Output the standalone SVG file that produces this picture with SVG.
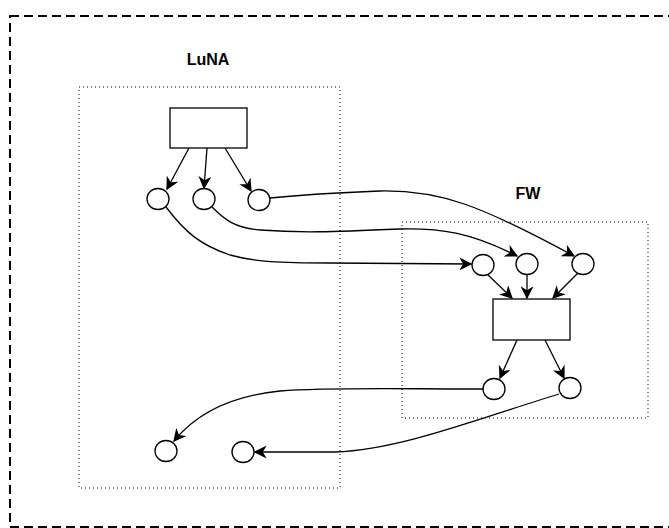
<svg xmlns="http://www.w3.org/2000/svg" width="669" height="528" viewBox="0 0 669 528">
<defs>
<style>
.outer{fill:none;stroke:#000;stroke-width:2;stroke-dasharray:9,5}
.box{fill:none;stroke:#000;stroke-width:1;stroke-dasharray:1,3}
.node{fill:#fff;stroke:#000;stroke-width:1.3}
.edge{fill:none;stroke:#000;stroke-width:1.3;marker-end:url(#arr)}
.lbl{font-family:"Liberation Sans",Arial,sans-serif;font-weight:bold;font-size:16px;fill:#000}
</style>
<marker id="arr" markerUnits="userSpaceOnUse" markerWidth="13" markerHeight="13" viewBox="0 0 10 10" refX="9" refY="5" orient="auto">
<path d="M0,0 L10,5 L0,10 L3,5 z" fill="#000"/>
</marker>
</defs>
<rect width="669" height="528" fill="#fff"/>
<rect class="outer" x="10" y="16" width="680" height="511"/>
<g id="luna">
<rect class="box" x="79" y="87" width="261" height="401"/>
<text class="lbl" x="208" y="65" text-anchor="middle">LuNA</text>
</g>
<g id="fw">
<rect class="box" x="402" y="222" width="246" height="196"/>
<text class="lbl" x="528" y="199" text-anchor="middle">FW</text>
</g>
<g id="connectors">
<path class="edge" d="M189,148 L167,189"/>
<path class="edge" d="M207,148 L204,188"/>
<path class="edge" d="M225,148 L251,191"/>
<path class="edge" d="M166,207 C185,232 200,245 230,255 C255,262 280,263 330,263 L471,264"/>
<path class="edge" d="M212,207 C225,220 235,228 260,230 C300,233 330,232 400,229 C440,228 470,232 517,256"/>
<path class="edge" d="M270,198 C300,195 330,193 380,191 C440,190 480,205 574,256"/>
<path class="edge" d="M487,274 L512,298"/>
<path class="edge" d="M527,274 L527,298"/>
<path class="edge" d="M578,273 L553,298"/>
<path class="edge" d="M517,340 L500,378"/>
<path class="edge" d="M545,340 L564,378"/>
<path class="edge" d="M483,389 C400,389 330,387 280,391 C230,396 195,415 174,441"/>
<path class="edge" d="M559,394 C480,418 400,450 335,452 L255,452"/>
</g>
<g id="luna-rect"><rect class="node" x="170" y="108" width="77" height="40"/></g>
<g id="l1"><ellipse class="node" cx="158" cy="199" rx="11" ry="10.5"/></g>
<g id="l2"><ellipse class="node" cx="204" cy="199" rx="11" ry="10.5"/></g>
<g id="l3"><ellipse class="node" cx="259" cy="200" rx="11" ry="10.5"/></g>
<g id="fw-rect"><rect class="node" x="493" y="299" width="77" height="41"/></g>
<g id="f1"><ellipse class="node" cx="483" cy="265" rx="11" ry="10.5"/></g>
<g id="f2"><ellipse class="node" cx="527" cy="264" rx="11" ry="10.5"/></g>
<g id="f3"><ellipse class="node" cx="583" cy="264" rx="11" ry="10.5"/></g>
<g id="b1"><ellipse class="node" cx="494" cy="389" rx="11" ry="10.5"/></g>
<g id="b2"><ellipse class="node" cx="570" cy="388" rx="11" ry="10.5"/></g>
<g id="lb1"><ellipse class="node" cx="166" cy="451" rx="11" ry="10.5"/></g>
<g id="lb2"><ellipse class="node" cx="243" cy="452" rx="11" ry="10.5"/></g>
</svg>
